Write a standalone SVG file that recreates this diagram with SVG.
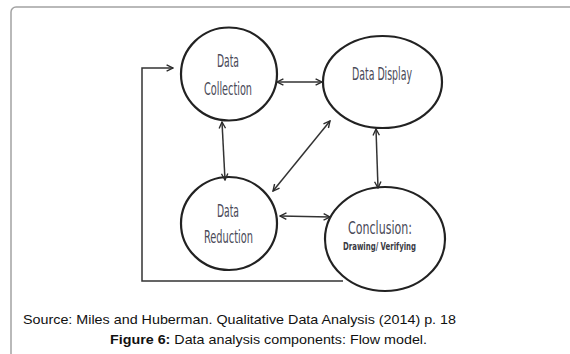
<svg xmlns="http://www.w3.org/2000/svg" width="570" height="354" viewBox="0 0 570 354">
  <defs>
    <marker id="chev" viewBox="0 0 10 10" refX="9" refY="5" markerWidth="8" markerHeight="8" markerUnits="userSpaceOnUse" orient="auto-start-reverse">
      <path d="M1,1 L9,5 L1,9" fill="none" stroke="#2a2a2a" stroke-width="1.7"/>
    </marker>
    <style>
      .node ellipse { fill: #fff; stroke: #222; stroke-width: 2.2; }
      .lbl { font-family: "Liberation Sans Narrow", "DejaVu Sans Condensed", "Liberation Sans", sans-serif; fill: #4a4a58; font-size: 17px; }
      .sub { font-family: "Liberation Sans Narrow", "DejaVu Sans Condensed", "Liberation Sans", sans-serif; fill: #3a3a44; font-size: 11px; font-weight: bold; }
      .conn path, .conn line { fill: none; stroke: #333; stroke-width: 1.5; }
      .both { marker-start: url(#chev); marker-end: url(#chev); }
      .cap { font-family: "Liberation Sans", Arial, sans-serif; font-size: 13px; fill: #111; }
    </style>
  </defs>

  <rect width="570" height="354" fill="#fff"/>
  <!-- panel frame -->
  <rect x="11" y="7" width="620" height="400" rx="5" fill="none" stroke="#a3a3a3" stroke-width="1.5"/>

  <g class="node" id="data-collection">
    <ellipse cx="229" cy="74" rx="48" ry="46.5"/>
    <text class="lbl" x="217" y="67" textLength="22" lengthAdjust="spacingAndGlyphs">Data</text>
    <text class="lbl" x="204" y="95" textLength="48" lengthAdjust="spacingAndGlyphs">Collection</text>
  </g>

  <g class="node" id="data-display">
    <ellipse cx="382.5" cy="82" rx="59.5" ry="46"/>
    <text class="lbl" x="352" y="80" textLength="60" lengthAdjust="spacingAndGlyphs">Data Display</text>
  </g>

  <g class="node" id="data-reduction">
    <ellipse cx="229" cy="223.5" rx="48" ry="46.5"/>
    <text class="lbl" x="217" y="217" textLength="22" lengthAdjust="spacingAndGlyphs">Data</text>
    <text class="lbl" x="204" y="243" textLength="49" lengthAdjust="spacingAndGlyphs">Reduction</text>
  </g>

  <g class="node" id="conclusion">
    <ellipse cx="385" cy="239" rx="60" ry="52"/>
    <text class="lbl" x="348" y="234" textLength="64" lengthAdjust="spacingAndGlyphs">Conclusion:</text>
    <text class="sub" x="343" y="250" textLength="73" lengthAdjust="spacingAndGlyphs">Drawing/ Verifying</text>
  </g>

  <g class="conn" id="connectors">
    <!-- feedback loop from Conclusion back to Collection -->
    <path d="M343,281 H142 V68 H173" marker-end="url(#chev)"/>
    <line class="both" x1="277" y1="82" x2="322" y2="82"/>
    <line class="both" x1="222" y1="122" x2="225" y2="180"/>
    <line class="both" x1="330" y1="121" x2="273" y2="191"/>
    <line class="both" x1="376" y1="129" x2="378" y2="188"/>
    <line class="both" x1="280" y1="216" x2="330" y2="217"/>
  </g>

  <g id="caption">
    <text class="cap" x="23" y="324" textLength="433" lengthAdjust="spacingAndGlyphs">Source: Miles and Huberman. Qualitative Data Analysis (2014) p. 18</text>
    <text class="cap" x="110" y="344" textLength="317" lengthAdjust="spacingAndGlyphs"><tspan font-weight="bold">Figure 6:</tspan> Data analysis components: Flow model.</text>
  </g>
</svg>
